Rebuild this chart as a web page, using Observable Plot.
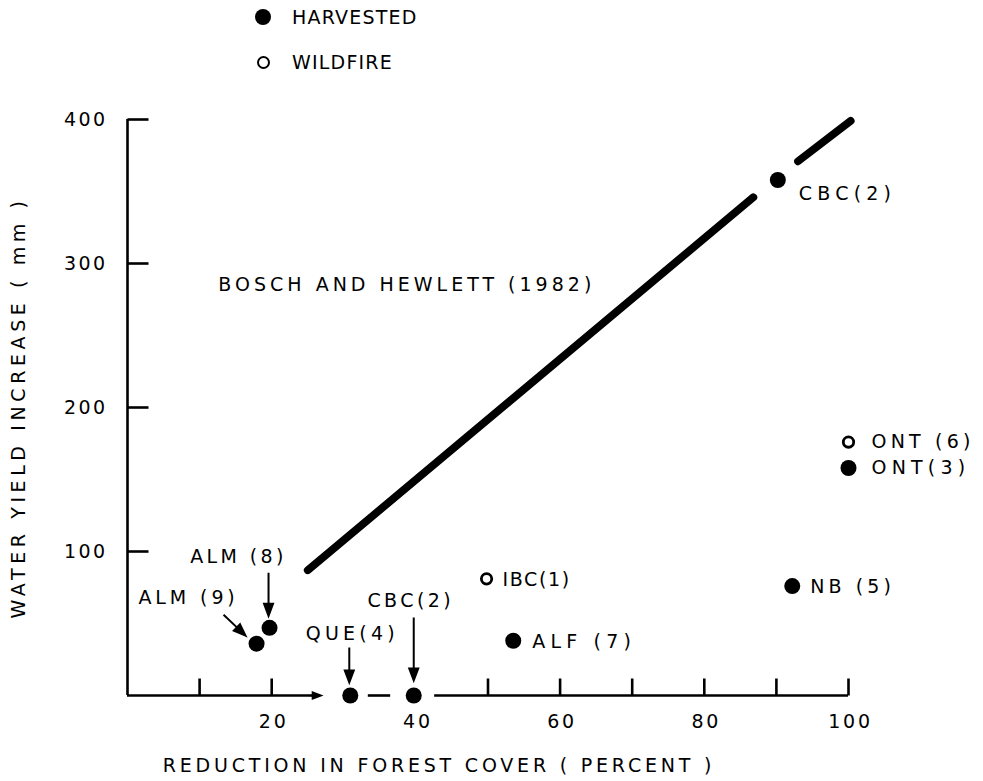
<!DOCTYPE html>
<html>
<head>
<meta charset="utf-8">
<script src="https://cdn.jsdelivr.net/npm/d3@7"></script>
<script src="https://cdn.jsdelivr.net/npm/@observablehq/plot@0.6"></script>
<style>
  body { margin: 0; background: #fff; font-family: "DejaVu Sans", sans-serif; }
  #legend { position: relative; width: 983px; height: 90px; }
  .lg-item { position: absolute; left: 0; height: 0; }
  .lg-mark { position: absolute; box-sizing: border-box; border-radius: 50%; }
  .lg-text { position: absolute; font-size: 19px; letter-spacing: 1.2px; line-height: 20px; white-space: nowrap; color: #000; }
</style>
</head>
<body>
<div id="legend"></div>
<div id="chart"></div>
<script>
// ---------------- data ----------------
const sites = ["ALM (9)", "ALM (8)", "QUE(4)", "CBC(2)", "IBC(1)", "ALF (7)", "NB (5)", "ONT (6)", "ONT(3)", "CBC(2)"];
const reduction = [17.9, 19.7, 30.9, 39.7, 49.8, 53.5, 92.2, 100, 100, 90.2];
const yieldIncrease = [36, 47, 0, 0, 81, 38, 76, 176, 158, 358];
const disturbance = ["harvested", "harvested", "harvested", "harvested", "wildfire", "harvested", "harvested", "wildfire", "harvested", "harvested"];

// Bosch and Hewlett (1982) relation, drawn in two pieces around the CBC(2) point
const bhReduction = [25, 86.8, 93, 100.3];
const bhYield = [87, 346, 371, 399];
const bhPiece = [1, 1, 2, 2];
const bhLabel = "BOSCH AND HEWLETT (1982)";
const bhLabelAt = [12.6, 285];

// axes
const xTickValues = [10, 20, 50, 60, 70, 80, 90, 100];
const xTickLabels = [20, 40, 60, 80, 100];
const yTickValues = [100, 200, 300, 400];
const xAxisFrom = [0, 33.4, 42.6];
const xAxisTo = [26.0, 36.5, 100];
const xAxisArrowAt = 26.9;

const legendKeys = ["harvested", "wildfire"];
const legendLabels = ["HARVESTED", "WILDFIRE"];
const xTitle = "REDUCTION IN FOREST COVER ( PERCENT )";
const yTitle = "WATER YIELD INCREASE ( mm )";

// ---------------- styling / layout ----------------
const INK = "#000";
const labelLayout = [ // dx, dy, anchor, letter-spacing (pixels)
  [-68, -46, "middle", 3.9], [-31, -71, "middle", 3.4], [2, -62, "middle", 4.2], [-3, -95, "middle", 3.4],
  [16, 1, "start", 1.6], [19, 1, "start", 5.2], [18, 1, "start", 4.1], [23, 0, "start", 4.2], [23, 0, "start", 5.2], [21, 14, "start", 5.2]
];
const arrowLayout = { // index -> [x0, y0, x1, y1] relative to the dot, pixels
  0: [-33, -29, -11, -8],
  1: [-1, -55, -1, -12],
  2: [-1, -48, -1, -13],
  3: [0, -78, 0, -15]
};

function arrowSymbol([x0, y0, x1, y1], head = 12, half = 4.5) {
  return {
    draw(ctx) {
      const dx = x1 - x0, dy = y1 - y0, L = Math.hypot(dx, dy);
      const ux = dx / L, uy = dy / L;
      const bx = x1 - ux * head, by = y1 - uy * head;
      ctx.moveTo(x0, y0); ctx.lineTo(bx, by);
      ctx.moveTo(x1, y1);
      ctx.lineTo(bx - uy * half, by + ux * half);
      ctx.lineTo(bx + uy * half, by - ux * half);
      ctx.closePath();
    }
  };
}
const tickUp = { draw(ctx) { ctx.moveTo(0, 0); ctx.lineTo(0, -17); } };
const tickRight = { draw(ctx) { ctx.moveTo(0, 0); ctx.lineTo(21, 0); } };

// ---------------- legend ----------------
const legend = document.getElementById("legend");
legendKeys.forEach((k, i) => {
  const cy = [17, 62][i];
  const item = document.createElement("div");
  item.className = "lg-item";
  const m = document.createElement("div");
  m.className = "lg-mark";
  if (k === "harvested") {
    Object.assign(m.style, { width: "16px", height: "16px", left: "255px", top: (cy - 8) + "px", background: INK });
  } else {
    Object.assign(m.style, { width: "13px", height: "13px", left: "256.5px", top: (cy - 6.5) + "px", border: "2.8px solid " + INK, background: "#fff" });
  }
  const t = document.createElement("div");
  t.className = "lg-text";
  t.textContent = legendLabels[i];
  Object.assign(t.style, { left: "292px", top: (cy - 10) + "px" });
  item.appendChild(m); item.appendChild(t);
  legend.appendChild(item);
});

// ---------------- chart ----------------
const idx = d3.range(sites.length);
const bh = bhReduction.map((x, i) => ({ x, y: bhYield[i], piece: bhPiece[i] }));
const segs = xAxisFrom.map((a, i) => ({ a, b: xAxisTo[i] }));

const spacing = new Map(); // mark -> letter spacing
function spaced(mark, ls) { spacing.set(mark, ls); return mark; }

const labelMarks = idx.map(i => spaced(Plot.text([i], {
  x: j => reduction[j], y: j => yieldIncrease[j], text: j => sites[j],
  dx: labelLayout[i][0], dy: labelLayout[i][1], textAnchor: labelLayout[i][2],
  lineAnchor: "middle", fill: INK
}), labelLayout[i][3]));
const arrowMarks = Object.keys(arrowLayout).map(k => Plot.dot([+k], {
  x: j => reduction[j], y: j => yieldIncrease[j],
  symbol: arrowSymbol(arrowLayout[k]), fill: INK, stroke: INK, strokeWidth: 2
}));

const marks = [
  // axes
  Plot.ruleX([0], { y1: 0, y2: 400, stroke: INK, strokeWidth: 2.6 }),
  Plot.ruleY(segs, { y: 0, x1: "a", x2: "b", stroke: INK, strokeWidth: 2.6 }),
  Plot.dot([xAxisArrowAt], { x: d => d, y: 0, symbol: arrowSymbol([-12, 0, 0, 0], 9, 3.5), fill: INK, stroke: INK, strokeWidth: 1.5 }),
  Plot.dot(xTickValues, { x: d => d, y: 0, symbol: tickUp, stroke: INK, strokeWidth: 2.6 }),
  Plot.dot(yTickValues, { x: 0, y: d => d, symbol: tickRight, stroke: INK, strokeWidth: 2.6 }),
  spaced(Plot.text(xTickLabels, { x: d => d, y: 0, text: d => String(d), dy: 26, dx: 2, lineAnchor: "middle", fill: INK }), 2.8),
  spaced(Plot.text(yTickValues, { x: 0, y: d => d, text: d => String(d), dx: -20, textAnchor: "end", lineAnchor: "middle", fill: INK }), 2.4),
  // axis titles
  spaced(Plot.text([yTitle], { frameAnchor: "left", dx: -109, rotate: -90, text: d => d, textAnchor: "middle", lineAnchor: "middle", fill: INK }), 4.6),
  spaced(Plot.text([xTitle], { frameAnchor: "bottom", dx: -49, dy: 70, text: d => d, textAnchor: "middle", lineAnchor: "middle", fill: INK }), 3.8),
  // Bosch & Hewlett line
  Plot.line(bh, { x: "x", y: "y", z: "piece", stroke: INK, strokeWidth: 7.8, strokeLinecap: "round" }),
  spaced(Plot.text([bhLabel], { x: bhLabelAt[0], y: bhLabelAt[1], text: d => d, textAnchor: "start", lineAnchor: "middle", fill: INK }), 4),
  // arrows
  ...arrowMarks,
  // points
  Plot.dot(idx.filter(i => disturbance[i] === "harvested"), { x: i => reduction[i], y: i => yieldIncrease[i], r: 8, fill: INK, stroke: "none" }),
  Plot.dot(idx.filter(i => disturbance[i] === "wildfire"), { x: i => reduction[i], y: i => yieldIncrease[i], r: 5.2, fill: "#fff", stroke: INK, strokeWidth: 2.8 }),
  // labels
  ...labelMarks
];

const chart = Plot.plot({
  width: 983,
  height: 691,
  marginTop: 29,
  marginBottom: 86,
  marginLeft: 127,
  marginRight: 135,
  x: { domain: [0, 100], axis: null },
  y: { domain: [0, 400], axis: null },
  style: { fontFamily: "DejaVu Sans, sans-serif", fontSize: "19px", color: INK, background: "#fff", overflow: "visible" },
  marks
});

// apply letter spacing per text mark (groups are rendered in mark order)
const groups = Array.from(chart.children).filter(n => n.tagName === "g");
marks.forEach((m, i) => {
  const ls = spacing.get(m);
  if (ls != null && groups[i]) groups[i].style.letterSpacing = ls + "px";
});
document.getElementById("chart").appendChild(chart);
</script>
</body>
</html>
